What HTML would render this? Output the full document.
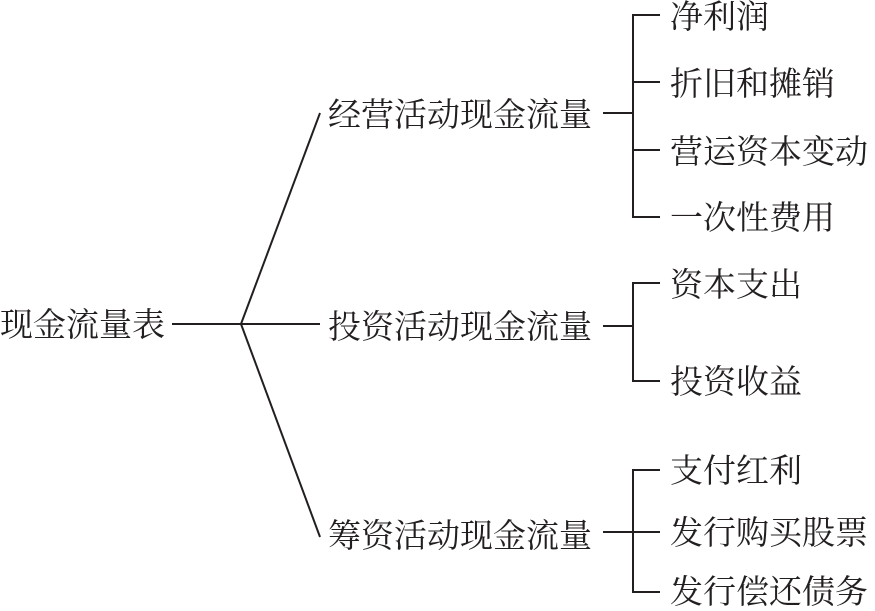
<!DOCTYPE html>
<html><head><meta charset="utf-8"><style>
html,body{margin:0;padding:0;background:#fff;}
svg{display:block}
text{font-family:"Liberation Serif","Noto Serif CJK SC",serif;font-size:33px;fill:#231f20;dominant-baseline:central;}
</style></head><body>
<svg width="875" height="611" viewBox="0 0 875 611">
<g stroke="#231f20" stroke-width="2" fill="none">
<line x1="172" y1="324" x2="241" y2="324"/>
<line x1="241" y1="324" x2="320" y2="113"/>
<line x1="241" y1="324" x2="320" y2="324"/>
<line x1="241" y1="324" x2="320" y2="537"/>
<line x1="603" y1="113" x2="633" y2="113"/>
<polyline points="660,15 633,15 633,217 660,217"/>
<line x1="633" y1="82" x2="660" y2="82"/>
<line x1="633" y1="150" x2="660" y2="150"/>
<line x1="603" y1="326" x2="633" y2="326"/>
<polyline points="660,283 633,283 633,381 660,381"/>
<line x1="603" y1="532" x2="633" y2="532"/>
<polyline points="660,470 633,470 633,592 660,592"/>
<line x1="633" y1="532" x2="660" y2="532"/>
</g>
<text x="0" y="326">现金流量表</text>
<text x="328" y="116">经营活动现金流量</text>
<text x="328" y="328">投资活动现金流量</text>
<text x="328" y="537">筹资活动现金流量</text>
<text x="670" y="18">净利润</text>
<text x="670" y="85">折旧和摊销</text>
<text x="670" y="153">营运资本变动</text>
<text x="670" y="219">一次性费用</text>
<text x="670" y="286">资本支出</text>
<text x="670" y="383">投资收益</text>
<text x="670" y="472">支付红利</text>
<text x="670" y="534">发行购买股票</text>
<text x="670" y="593">发行偿还债务</text>
</svg>
</body></html>
